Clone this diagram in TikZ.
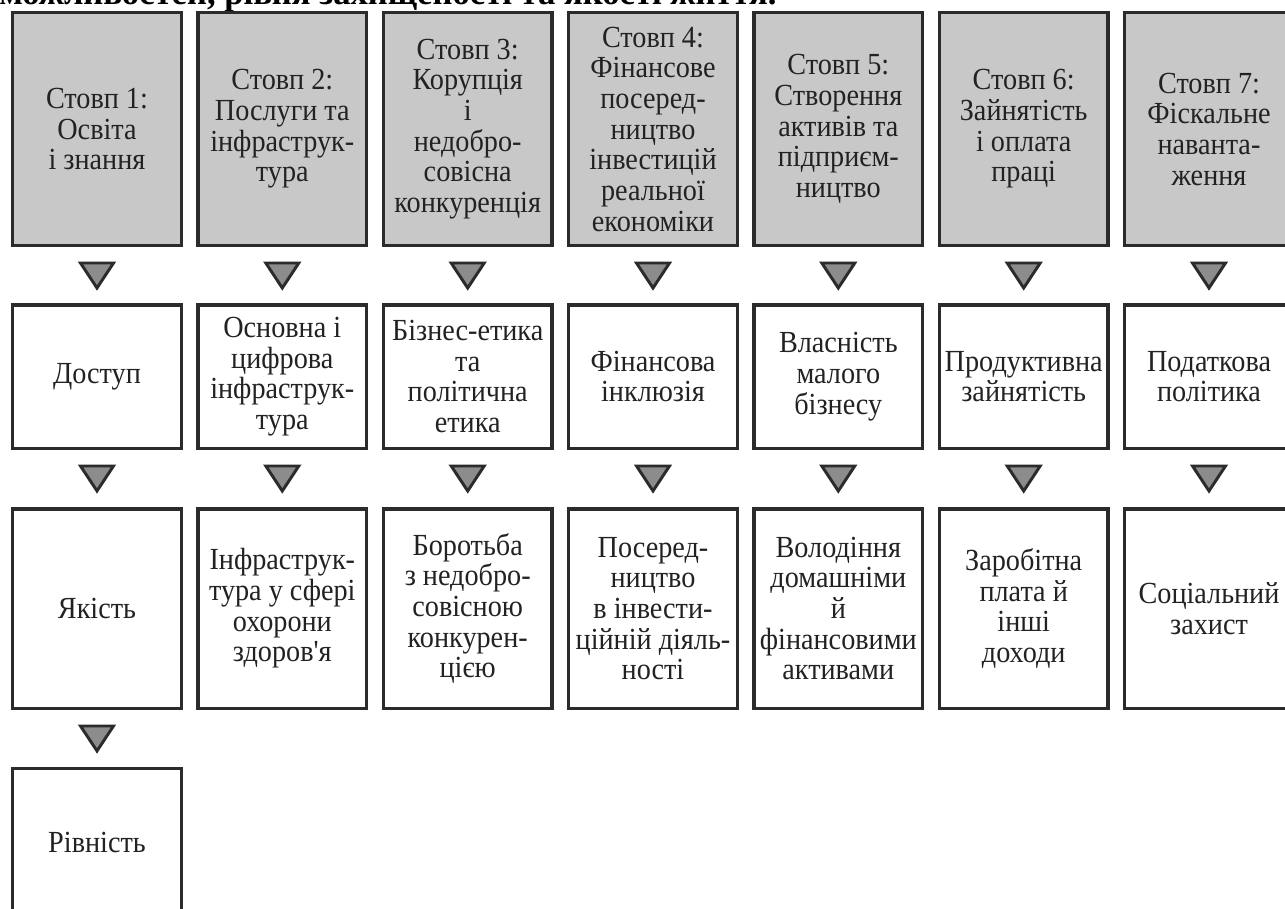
\documentclass[tikz,border=0pt]{standalone}
\usepackage{fontspec}
\newfontfamily\dfont{Liberation Serif}[FakeStretch=0.92]
\newfontfamily\tfont{Liberation Serif}
\usetikzlibrary{calc}
\definecolor{boxline}{HTML}{2B2B2B}
\definecolor{pillar}{HTML}{C8C8C8}
\definecolor{trifill}{HTML}{8C8C8C}
\definecolor{txt}{HTML}{222222}
\newcommand\downtri[1]{\draw[tri] ($(#1.south)+(-16.5,16)$) -- ($(#1.south)+(16.5,16)$) -- ($(#1.south)+(0,41)$) -- cycle;}
\begin{document}
\begin{tikzpicture}[x=0.75pt,y=-0.75pt,
  box/.style={draw=boxline, line width=2.6pt, minimum width=126.4pt, inner sep=0pt, align=center, text=txt, font=\dfont\fontsize{23}{23}\selectfont},
  pbox/.style={box, fill=pillar, minimum height=174.4pt},
  abox/.style={box, fill=white, minimum height=107.6pt},
  bbox/.style={box, fill=white, minimum height=149.6pt},
  cbox/.style={box, fill=white, minimum height=110pt},
  tri/.style={draw=boxline, fill=trifill, line width=2.2pt, line join=miter}]
\path[use as bounding box] (0,0) rectangle (1285,908);
\clip (0,0) rectangle (1285,908);
\fill[white] (0,0) rectangle (1285,908);
\node[anchor=base west, inner sep=0pt, text=black, font=\tfont\bfseries\fontsize{26}{26}\selectfont] (toptext) at (-1,4) {можливостей, рівня захищеності та якості життя.};
% pillar row
\node[pbox] (g1) at (97,129) {Стовп 1:\\Освіта\\і знання};
\node[pbox] (g2) at (282.3,129) {Стовп 2:\\Послуги та\\інфраструк-\\тура};
\node[pbox] (g3) at (467.7,129) {Стовп 3:\\Корупція\\і\\недобро-\\совісна\\конкуренція};
\node[pbox] (g4) at (653,129) {Стовп 4:\\Фінансове\\посеред-\\ництво\\інвестицій\\реальної\\економіки};
\node[pbox] (g5) at (838.3,129) {Стовп 5:\\Створення\\активів та\\підприєм-\\ництво};
\node[pbox] (g6) at (1023.7,129) {Стовп 6:\\Зайнятість\\і оплата\\праці};
\node[pbox] (g7) at (1209,129) {Стовп 7:\\Фіскальне\\наванта-\\ження};
% second row
\node[abox] (a1) at (97,376.5) {Доступ};
\node[abox] (a2) at (282.3,376.5) {Основна і\\цифрова\\інфраструк-\\тура};
\node[abox] (a3) at (467.7,376.5) {Бізнес-етика\\та\\політична\\етика};
\node[abox] (a4) at (653,376.5) {Фінансова\\інклюзія};
\node[abox] (a5) at (838.3,376.5) {Власність\\малого\\бізнесу};
\node[abox] (a6) at (1023.7,376.5) {Продуктивна\\зайнятість};
\node[abox] (a7) at (1209,376.5) {Податкова\\політика};
% third row
\node[bbox] (b1) at (97,608.5) {Якість};
\node[bbox] (b2) at (282.3,608.5) {Інфраструк-\\тура у сфері\\охорони\\здоров'я};
\node[bbox] (b3) at (467.7,608.5) {Боротьба\\з недобро-\\совісною\\конкурен-\\цією};
\node[bbox] (b4) at (653,608.5) {Посеред-\\ництво\\в інвести-\\ційній діяль-\\ності};
\node[bbox] (b5) at (838.3,608.5) {Володіння\\домашніми\\й\\фінансовими\\активами};
\node[bbox] (b6) at (1023.7,608.5) {Заробітна\\плата й\\інші\\доходи};
\node[bbox] (b7) at (1209,608.5) {Соціальний\\захист};
% fourth row
\node[cbox] (c1) at (97,842) {Рівність};
% triangles
\foreach \n in {g1,g2,g3,g4,g5,g6,g7,a1,a2,a3,a4,a5,a6,a7,b1}{\downtri{\n}}
\end{tikzpicture}
\end{document}
